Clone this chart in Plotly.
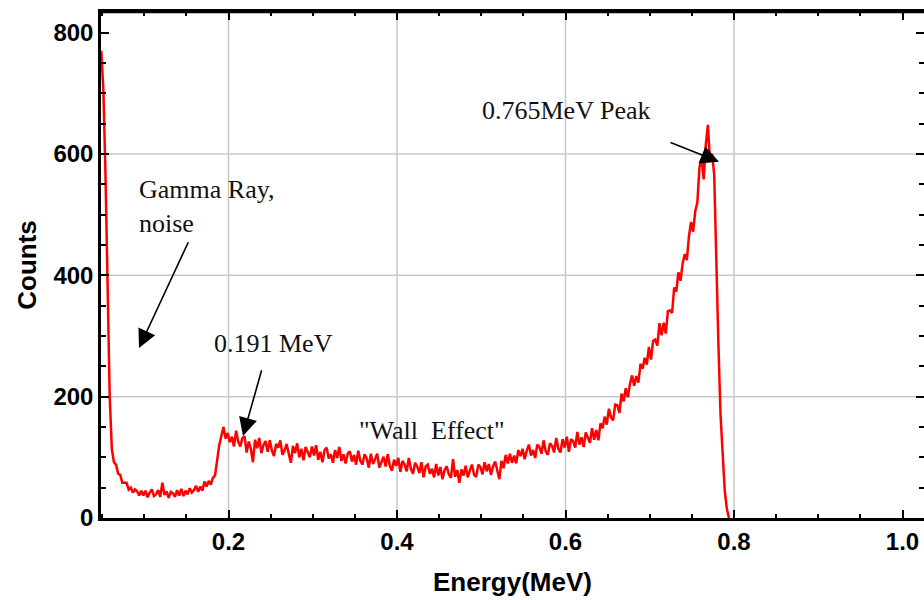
import plotly.graph_objects as go

# Energy channels (MeV): uniform calibration grid
E0 = 0.049
STEP = 0.0025

counts = [
    770, 705, 565, 360, 200, 114, 92, 88, 73, 71, 58, 58, 58, 47, 50, 42, 47, 44, 37, 45,
    37, 45, 34, 42, 47, 36, 39, 46, 35, 58, 38, 44, 33, 43, 41, 35, 46, 37, 48, 36,
    45, 39, 49, 42, 46, 53, 43, 52, 45, 60, 52, 61, 55, 66, 70, 95, 120, 135, 150, 131,
    140, 125, 134, 118, 144, 126, 118, 132, 135, 108, 126, 114, 92, 129, 115, 132, 107, 120, 127, 109,
    128, 111, 102, 122, 116, 128, 104, 111, 122, 106, 91, 119, 107, 123, 100, 114, 95, 117, 109, 100,
    118, 103, 120, 96, 109, 92, 112, 116, 98, 105, 91, 112, 99, 117, 94, 105, 90, 106, 110, 93,
    104, 88, 111, 94, 88, 105, 98, 83, 106, 89, 97, 106, 83, 92, 101, 85, 105, 86, 78, 96,
    86, 99, 76, 94, 88, 77, 99, 81, 73, 91, 85, 74, 92, 67, 85, 88, 73, 81, 67, 89,
    70, 84, 64, 79, 85, 72, 66, 97, 68, 79, 58, 80, 70, 86, 67, 79, 88, 71, 68, 88,
    84, 72, 92, 77, 89, 71, 85, 93, 79, 64, 94, 82, 104, 90, 106, 91, 103, 90, 112, 102,
    114, 97, 111, 121, 103, 112, 99, 121, 117, 106, 128, 110, 104, 123, 119, 108, 132, 114, 108, 130,
    116, 134, 109, 130, 127, 116, 142, 121, 133, 117, 141, 133, 124, 148, 129, 145, 128, 156, 148, 167,
    154, 180, 166, 161, 187, 186, 173, 205, 192, 214, 199, 221, 235, 218, 234, 223, 254, 246, 264, 253,
    282, 261, 292, 294, 284, 321, 301, 322, 304, 341, 342, 338, 380, 373, 405, 391, 419, 435, 425, 464,
    488, 472, 506, 520, 578, 592, 558, 615, 648, 588, 600, 566, 400, 285, 170, 95, 45, 15, 0,
]
energy = [round(E0 + STEP * i, 4) for i in range(len(counts))]

x_grid = [0.2, 0.4, 0.6, 0.8]
y_grid = [200, 400, 600]

# annotations: (text, x, y, xanchor)
labels = [
    ("Gamma Ray,<br>noise", 0.0914, 514, "left"),
    ("0.191 MeV", 0.1804, 288, "left"),
    ("\"Wall  Effect\"", 0.4415, 145, "center"),
    ("0.765MeV Peak", 0.4985, 671, "left"),
]
# arrows: (head_x, head_y, tail_x, tail_y)
arrows = [
    (0.0938, 280, 0.1531, 457),
    (0.2172, 135, 0.2398, 246),
    (0.7822, 587, 0.7229, 620),
]

X_RANGE = [0.04866, 1.0255]
Y_RANGE = [0, 834]

fig = go.Figure()
fig.add_trace(go.Scatter(x=energy, y=counts, mode="lines",
                         line=dict(color="#ff0000", width=2.5), hoverinfo="skip"))
fig.add_trace(go.Scatter(x=[X_RANGE[0]], y=[Y_RANGE[0]], xaxis="x2", yaxis="y2", mode="markers",
                         marker=dict(opacity=0), hoverinfo="skip"))

for gx in x_grid:
    fig.add_shape(type="line", xref="x", yref="paper", x0=gx, x1=gx, y0=0, y1=1,
                  line=dict(color="#c8c8c8", width=1.5), layer="below")
for gy in y_grid:
    fig.add_shape(type="line", xref="paper", yref="y", x0=0, x1=1, y0=gy, y1=gy,
                  line=dict(color="#c8c8c8", width=1.5), layer="below")
# top frame line
fig.add_shape(type="line", xref="paper", yref="paper", x0=0, x1=1, y0=1, y1=1,
              line=dict(color="black", width=2.5), layer="above")

serif = dict(family="Liberation Serif, Times New Roman, serif", size=26, color="#111111")
for text, x, y, xa in labels:
    fig.add_annotation(x=x, y=y, text=text, showarrow=False, xanchor=xa, yanchor="middle",
                       align="left", font=serif)
for hx, hy, tx, ty in arrows:
    fig.add_annotation(x=hx, y=hy, ax=tx, ay=ty, xref="x", yref="y", axref="x", ayref="y",
                       text="", showarrow=True, arrowhead=2, arrowsize=2.3, arrowwidth=1.6,
                       arrowcolor="black", standoff=0, startstandoff=0)

tickfont = dict(family="Liberation Sans, Arial, sans-serif", size=24, color="black", weight="bold")
titlefont = dict(family="Liberation Sans, Arial, sans-serif", size=26, color="black", weight="bold")

common_x = dict(range=X_RANGE, tick0=0, dtick=0.2, tickformat=".1f",
                ticks="inside", ticklen=8, tickwidth=2, tickcolor="black",
                showgrid=False, zeroline=False,
                minor=dict(tick0=0, dtick=0.05, ticks="inside", ticklen=4, tickwidth=2,
                           tickcolor="black", showgrid=False))
common_y = dict(range=Y_RANGE, tick0=0, dtick=200,
                ticks="inside", ticklen=8, tickwidth=2, tickcolor="black",
                showgrid=False, zeroline=False,
                minor=dict(tick0=0, dtick=50, ticks="inside", ticklen=5, tickwidth=2,
                           tickcolor="black", showgrid=False))

fig.update_layout(
    width=924, height=600,
    margin=dict(l=101, r=0, t=12, b=82),
    plot_bgcolor="white", paper_bgcolor="white",
    showlegend=False,
    xaxis=dict(**common_x, showline=True, linewidth=2.5, linecolor="black", tickfont=tickfont,
               title=dict(text="Energy(MeV)", font=titlefont, standoff=20)),
    xaxis2=dict(**common_x, overlaying="x", side="top", anchor="y2", showline=True,
                linewidth=2.5, linecolor="black", showticklabels=False),
    yaxis=dict(**common_y, showline=True, linewidth=2.5, linecolor="black", tickfont=tickfont,
               title=dict(text="Counts", font=titlefont, standoff=10)),
    yaxis2=dict(**common_y, overlaying="y", side="right", anchor="x2", showline=False,
                showticklabels=False),
)

fig.write_html("out.html")
